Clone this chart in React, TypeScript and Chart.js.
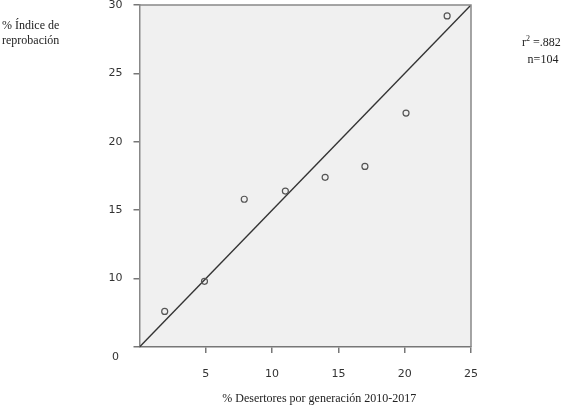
import React, { useEffect, useRef } from "react";
import { Chart, registerables } from "chart.js";

Chart.register(...registerables);

// ---- data ----
const desertores = [1.9, 4.9, 7.9, 11.0, 14.0, 17.0, 20.1, 23.2];
const reprobacion = [7.6, 9.8, 15.8, 16.4, 17.4, 18.2, 22.1, 29.2];
const fitX = [0, 25];
const fitY = [5, 30];
const xTicks = [5, 10, 15, 20, 25];
const yTicks = [5, 10, 15, 20, 25, 30];
const yBottomLabel = "0";
const xTitle = "% Desertores por generación 2010-2017";
const yTitle = ["% Índice de", "reprobación"];
const r2Label = "r";
const r2Sup = "2";
const r2Value = " =.882";
const nLabel = "n=104";

const SERIF = "'Liberation Serif', 'Times New Roman', serif";
const SANS = "'DejaVu Sans', Verdana, sans-serif";

const decor = {
  id: "decor",
  beforeDraw(chart: any) {
    const { ctx, chartArea: a } = chart;
    ctx.save();
    ctx.fillStyle = "#f0f0f0";
    ctx.fillRect(a.left, a.top, a.width, a.height);
    ctx.restore();
  },
  afterDraw(chart: any) {
    const { ctx, chartArea: a, scales } = chart;
    ctx.save();
    // top and right frame
    ctx.strokeStyle = "#888";
    ctx.lineWidth = 1.5;
    ctx.beginPath();
    ctx.moveTo(a.left, a.top);
    ctx.lineTo(a.right, a.top);
    ctx.lineTo(a.right, a.bottom);
    ctx.stroke();

    // y title (horizontal, top-left)
    ctx.fillStyle = "#222";
    ctx.font = `12px ${SERIF}`;
    ctx.textBaseline = "middle";
    ctx.textAlign = "left";
    yTitle.forEach((t, i) => ctx.fillText(t, 2, 26 + i * 15));

    // bottom y label "0"
    ctx.font = `11px ${SANS}`;
    ctx.fillStyle = "#333";
    ctx.textAlign = "center";
    ctx.fillText(yBottomLabel, a.left - 24, scales.y.getPixelForValue(yTicks[0]) + 10);

    // x title
    ctx.font = `12px ${SERIF}`;
    ctx.fillStyle = "#222";
    ctx.textAlign = "center";
    ctx.fillText(xTitle, (a.left + a.right) / 2 + 14, 399);

    // r2 / n annotation
    ctx.textAlign = "left";
    let x = 522;
    const y = 43;
    ctx.fillText(r2Label, x, y);
    x += ctx.measureText(r2Label).width;
    ctx.font = `8px ${SERIF}`;
    ctx.fillText(r2Sup, x, y - 4);
    x += ctx.measureText(r2Sup).width;
    ctx.font = `12px ${SERIF}`;
    ctx.fillText(r2Value, x, y);
    ctx.textAlign = "center";
    ctx.fillText(nLabel, 543, 60);
    ctx.restore();
  },
};

export default function App() {
  const ref = useRef<HTMLCanvasElement>(null);
  useEffect(() => {
    if (!ref.current) return;
    const chart = new Chart(ref.current, {
      type: "scatter",
      data: {
        datasets: [
          {
            label: "datos",
            data: desertores.map((x, i) => ({ x, y: reprobacion[i] })),
            pointRadius: 3,
            pointHoverRadius: 3,
            borderColor: "#555",
            backgroundColor: "rgba(0,0,0,0)",
            borderWidth: 1.2,
            showLine: false,
          },
          {
            label: "ajuste",
            data: fitX.map((x, i) => ({ x, y: fitY[i] })),
            showLine: true,
            pointRadius: 0,
            borderColor: "#333",
            borderWidth: 1.4,
            backgroundColor: "#333",
          },
        ],
      },
      options: {
        animation: false,
        responsive: false,
        devicePixelRatio: 1,
        layout: { padding: { top: 5, right: 97, left: 0, bottom: 0 } },
        plugins: { legend: { display: false }, tooltip: { enabled: false } },
        scales: {
          x: {
            type: "linear",
            min: 0,
            max: 25,
            afterBuildTicks: (s: any) => {
              s.ticks = xTicks.map((v) => ({ value: v }));
            },
            afterFit: (s: any) => {
              s.height = 61;
              s.paddingLeft = 0;
              s.paddingRight = 0;
            },
            grid: { display: true, drawOnChartArea: false, drawTicks: true, tickLength: 6, color: "#777", lineWidth: 1.5 },
            border: { display: true, color: "#777", width: 1.5 },
            ticks: { padding: 15, color: "#333", font: { family: SANS, size: 11 }, maxRotation: 0 },
          },
          y: {
            type: "linear",
            min: 5,
            max: 30,
            afterBuildTicks: (s: any) => {
              s.ticks = yTicks.map((v) => ({ value: v }));
            },
            afterFit: (s: any) => {
              s.width = 139.5;
              s.paddingTop = 0;
              s.paddingBottom = 0;
            },
            grid: { display: true, drawOnChartArea: false, drawTicks: true, tickLength: 6, color: "#777", lineWidth: 1.5 },
            border: { display: true, color: "#888", width: 1.5 },
            ticks: {
              padding: 11,
              color: "#333",
              font: { family: SANS, size: 11 },
              callback: (v: any) => (v === yTicks[0] ? "" : String(v)),
            },
          },
        },
      },
      plugins: [decor],
    } as any);
    return () => chart.destroy();
  }, []);
  return (
    <div style={{ position: "fixed", left: 0, top: 0, width: 568, height: 408, background: "#fff" }}>
      <canvas ref={ref} width={568} height={408} />
    </div>
  );
}
